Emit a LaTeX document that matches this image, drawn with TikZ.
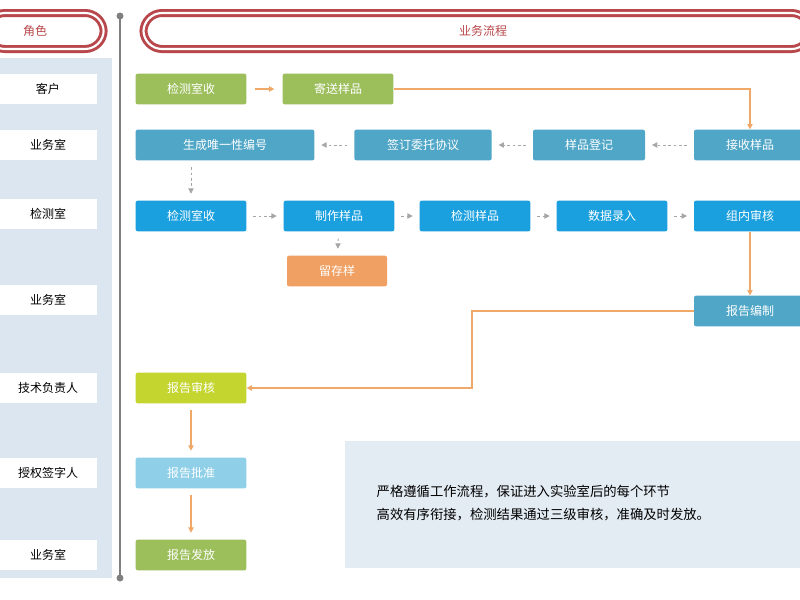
\documentclass[tikz,border=0pt]{standalone}
\usepackage{fontspec}
\setmainfont{Noto Sans CJK SC}
\usetikzlibrary{arrows.meta}
\definecolor{hdred}{HTML}{B8474B}
\definecolor{panel}{HTML}{DCE6F0}
\definecolor{leaf}{HTML}{9CBF5C}
\definecolor{steel}{HTML}{4FA6C6}
\definecolor{sky}{HTML}{1AA0DE}
\definecolor{amber}{HTML}{F0A062}
\definecolor{lime}{HTML}{C4D530}
\definecolor{pale}{HTML}{8FD0E8}
\definecolor{note}{HTML}{E3EBF3}
\definecolor{flow}{HTML}{EFA868}
\tikzstyle{Role}=[rectangle, fill=white, minimum width=73pt, minimum height=23pt, font=\small]
\tikzstyle{Step}=[rectangle, rounded corners=1.5pt, text=white, minimum height=23pt, font=\small]
\tikzstyle{Pill}=[rounded corners=14pt, draw=hdred, line width=2.2pt, double=white, double distance=1.6pt, text=hdred, font=\small]
\tikzstyle{Go}=[draw=flow, line width=0.8pt, -{Triangle[length=4pt,width=4pt]}]
\tikzstyle{Hop}=[draw=gray!70, dash pattern=on 2pt off 2pt, line width=0.6pt, shorten <=5pt, shorten >=5pt, -{Triangle[length=4pt,width=4pt]}]

\begin{document}
\begin{tikzpicture}[x=0.75pt, y=-0.75pt]
    \useasboundingbox (0,0) rectangle (800,600);
    \clip (0,0) rectangle (800,600);
    % headers and time line
    \fill[panel] (0,58) rectangle (112,578);
    \node[Pill, minimum width=88pt, minimum height=27pt] (rolehd) at (45,31) {};
    \node[text=hdred, font=\small] at (35,31) {角色};
    \node[Pill, minimum width=500pt, minimum height=27pt, anchor=west] (flowhd) at (142,31) {};
    \node[text=hdred, font=\small] at (483,31) {业务流程};
    \draw[gray, line width=1.2pt] (120,16) -- (120,578);
    \fill[gray] (120,16) circle (3.5) (120,578) circle (3.5);

    % roles
    \path
    (48,89) node[Role] (r1) {客户}
    (48,145) node[Role] (r2) {业务室}
    (48,214) node[Role] (r3) {检测室}
    (48,300) node[Role] (r4) {业务室}
    (48,388) node[Role] (r5) {技术负责人}
    (48,473) node[Role] (r6) {授权签字人}
    (48,555) node[Role] (r7) {业务室};

    % steps
    \path
    (191,89) node[Step, fill=leaf, minimum width=83pt] (send) {检测室收}
    (338,89) node[Step, fill=leaf, minimum width=83pt] (post) {寄送样品}
    (225,145) node[Step, fill=steel, minimum width=134pt] (code) {生成唯一性编号}
    (423,145) node[Step, fill=steel, minimum width=103pt] (sign) {签订委托协议}
    (589,145) node[Step, fill=steel, minimum width=84pt] (reg) {样品登记}
    (750,145) node[Step, fill=steel, minimum width=84pt] (recv) {接收样品}
    (191,216) node[Step, fill=sky, minimum width=83pt] (take) {检测室收}
    (339,216) node[Step, fill=sky, minimum width=83pt] (make) {制作样品}
    (475,216) node[Step, fill=sky, minimum width=83pt] (test) {检测样品}
    (612,216) node[Step, fill=sky, minimum width=83pt] (data) {数据录入}
    (750,216) node[Step, fill=sky, minimum width=84pt] (check) {组内审核}
    (337,271) node[Step, fill=amber, minimum width=75pt] (keep) {留存样}
    (750,311) node[Step, fill=steel, minimum width=84pt] (write) {报告编制}
    (191,388) node[Step, fill=lime, minimum width=83pt] (audit) {报告审核}
    (191,473) node[Step, fill=pale, minimum width=83pt] (ok) {报告批准}
    (191,555) node[Step, fill=leaf, minimum width=83pt] (issue) {报告发放};

    \fill[note] (345,441) rectangle (810,568);
    \node[anchor=west, align=left] (memo) at (372,503)
      {严格遵循工作流程，保证进入实验室后的每个环节\\[5pt]高效有序衔接，检测结果通过三级审核，准确及时发放。};

    \draw[Go, shorten <=6pt, shorten >=6pt] (send) -- (post);
    \draw[Go] (post) -| (recv);
    \draw[Hop] (recv) -- (reg);
    \draw[Hop] (reg) -- (sign);
    \draw[Hop] (sign) -- (code);
    \draw[Hop] (code.south -| take) -- (take);
    \draw[Hop] (take) -- (make);
    \draw[Hop] (make) -- (test);
    \draw[Hop] (test) -- (data);
    \draw[Hop] (data) -- (check);
    \draw[Hop] (make) -- (keep);
    \draw[Go] (check) -- (write);
    \draw[Go] (write.west) -- (472,311) |- (audit);
    \draw[Go, shorten <=5pt, shorten >=5pt] (audit) -- (ok);
    \draw[Go, shorten <=5pt, shorten >=5pt] (ok) -- (issue);
\end{tikzpicture}
\end{document}
